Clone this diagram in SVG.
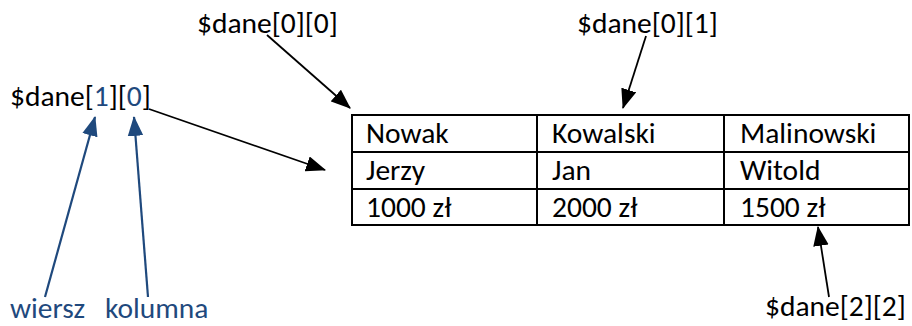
<svg xmlns="http://www.w3.org/2000/svg" width="912" height="326" viewBox="0 0 912 326">
<defs>
<style>
text{font-family:Carlito,Calibri,Lato,"Noto Sans",sans-serif;font-size:29.5px;fill:#000}
.blue{fill:#1F497D}
.tl{stroke:#000;stroke-width:2;fill:none}
.ca{stroke:#000;stroke-width:1.8;fill:none;marker-end:url(#ah)}
.cb{stroke:#1F497D;stroke-width:2.2;fill:none;marker-end:url(#ahb)}
</style>
<marker id="ah" markerUnits="userSpaceOnUse" markerWidth="20" markerHeight="16" refX="17" refY="7" orient="auto" viewBox="0 0 18 14">
<path d="M0,0 L18,7 L0,14 Z" fill="#000"/>
</marker>
<marker id="ahb" markerUnits="userSpaceOnUse" markerWidth="20" markerHeight="16" refX="17" refY="7" orient="auto" viewBox="0 0 18 14">
<path d="M0,0 L18,7 L0,14 Z" fill="#1F497D"/>
</marker>
</defs>
<rect width="912" height="326" fill="#fff"/>
<g id="table">
<rect class="tl" x="352" y="115" width="557" height="110"/>
<line class="tl" x1="352" y1="152" x2="909" y2="152"/>
<line class="tl" x1="352" y1="189" x2="909" y2="189"/>
<line class="tl" x1="537" y1="115" x2="537" y2="225"/>
<line class="tl" x1="724" y1="115" x2="724" y2="225"/>
<text x="366" y="143">Nowak</text>
<text x="552" y="143">Kowalski</text>
<text x="740" y="143">Malinowski</text>
<text x="366" y="180">Jerzy</text>
<text x="552" y="180">Jan</text>
<text x="740" y="180">Witold</text>
<text x="366" y="217">1000 zł</text>
<text x="552" y="217">2000 zł</text>
<text x="740" y="217">1500 zł</text>
</g>
<g id="label-00"><text x="197" y="33">$dane[0][0]</text></g>
<g id="label-01"><text x="577" y="33">$dane[0][1]</text></g>
<g id="label-10"><text x="10" y="106">$dane[<tspan class="blue">1</tspan>][<tspan class="blue">0</tspan>]</text></g>
<g id="label-22"><text x="765" y="316">$dane[2][2]</text></g>
<g id="label-wiersz"><text class="blue" x="10" y="318">wiersz</text></g>
<g id="label-kolumna"><text class="blue" x="105" y="318">kolumna</text></g>
<g id="connectors">
<line class="ca" x1="267" y1="35" x2="350" y2="108"/>
<line class="ca" x1="646" y1="36" x2="623" y2="108"/>
<line class="ca" x1="149" y1="109" x2="325" y2="170"/>
<line class="ca" x1="829" y1="297" x2="818" y2="227"/>
<line class="cb" x1="45" y1="297" x2="95" y2="117"/>
<line class="cb" x1="148" y1="297" x2="134" y2="117"/>
</g>
</svg>
